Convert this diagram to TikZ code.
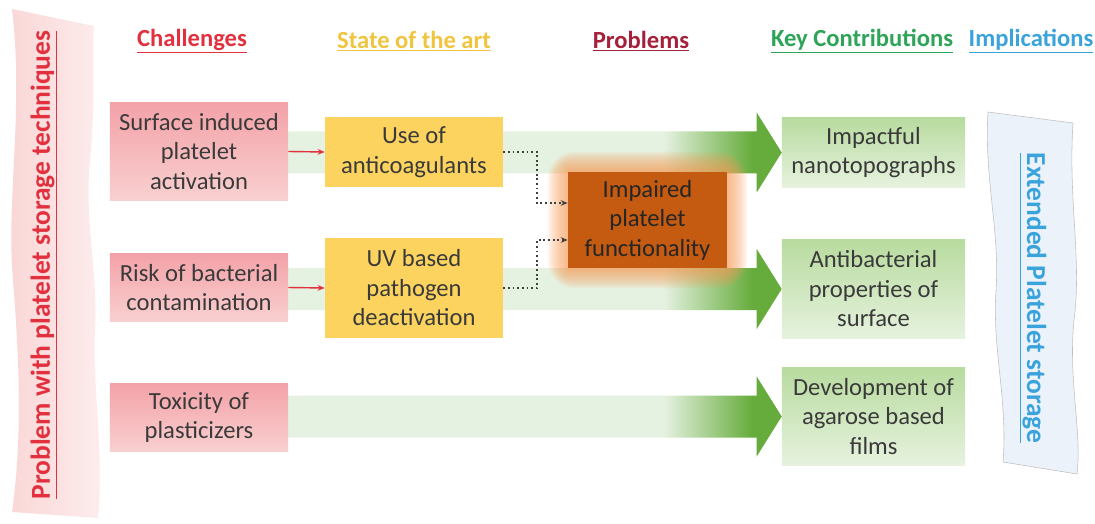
\documentclass[tikz,border=0pt]{standalone}
\usepackage{fontspec}
\setmainfont{Carlito}
\usetikzlibrary{positioning,arrows.meta,calc,backgrounds}

\definecolor{txtgray}{HTML}{3A3A3A}
\definecolor{chtop}{HTML}{F3A2A8}
\definecolor{chbot}{HTML}{F9D0D0}
\definecolor{stfill}{HTML}{FBD35E}
\definecolor{prfill}{HTML}{C55A11}
\definecolor{prhalo}{HTML}{F79A55}
\definecolor{kctop}{HTML}{B8DB9F}
\definecolor{kcbot}{HTML}{E6F2DE}
\definecolor{flowpale}{HTML}{E6F2E1}
\definecolor{flowgreen}{HTML}{66AC3C}
\definecolor{chred}{HTML}{E2303E}
\definecolor{stgold}{HTML}{F0C43E}
\definecolor{prmaroon}{HTML}{A52039}
\definecolor{kcgreen}{HTML}{2EA458}
\definecolor{imblue}{HTML}{3BA3DC}
\definecolor{bandpink}{HTML}{FAD6D6}
\definecolor{bandpale}{HTML}{FDEDED}
\definecolor{bandblue}{HTML}{ECF2F9}

% pale body, green only towards the head
\pgfdeclarehorizontalshading{flowfade}{100bp}{color(0bp)=(flowpale); color(25bp)=(flowpale); color(63bp)=(flowpale); color(72bp)=(flowgreen); color(100bp)=(flowgreen)}

\begin{document}
\begin{tikzpicture}[
  x=0.025cm, y=-0.025cm,
  font=\fontsize{17.5}{21}\selectfont,
  >=Stealth,
  hdr/.style={font=\fontsize{17.5}{20}\selectfont\bfseries},
  bandtitle/.style={font=\fontsize{19.5}{22}\selectfont\bfseries},
  chbox/.style={rectangle, top color=chtop, bottom color=chbot, text=txtgray, align=center, minimum width=4.45cm, inner sep=2pt},
  stbox/.style={rectangle, fill=stfill, text=txtgray, align=center, minimum width=4.45cm, inner sep=2pt},
  prbox/.style={rectangle, fill=prfill, text=black!85, align=center, minimum width=3.975cm, minimum height=2.4cm, inner sep=2pt},
  kcbox/.style={rectangle, top color=kctop, bottom color=kcbot, text=txtgray, align=center, minimum width=4.575cm, inner sep=2pt},
  bigflow/.style={shading=flowfade},
  prglow/.style={fill=prhalo, fill opacity=0.1},
  redlink/.style={-{Stealth[length=5pt,width=4pt]}, draw=chred, line width=1pt},
  dotlink/.style={-{Stealth[length=5pt,width=4pt]}, draw=black!75, line width=1.3pt, dotted}
]
  \useasboundingbox (0,0) rectangle (1095,524);

  % column headers
  \node[hdr, text=chred] (hch) at (192,41) {\underline{Challenges}};
  \node[hdr, text=stgold] (hst) at (414,41) {\underline{State of the art}};
  \node[hdr, text=prmaroon] (hpr) at (641,41) {\underline{Problems}};
  \node[hdr, text=kcgreen] (hkc) at (862,41) {\underline{Key Contributions}};
  \node[hdr, text=imblue] (him) at (1031,41) {\underline{Implications}};

  % challenges
  \node[chbox, minimum height=2.425cm] (ch1) at (199,151.5) {Surface induced\\platelet\\activation};
  \node[chbox, minimum height=1.7cm] (ch2) at (199,287.5) {Risk of bacterial\\contamination};
  \node[chbox, minimum height=1.7cm] (ch3) at (199,417.5) {Toxicity of\\plasticizers};

  % state of the art
  \node[stbox, minimum height=1.725cm] (st1) at (414,152) {Use of\\anticoagulants};
  \node[stbox, minimum height=2.475cm] (st2) at (414,288) {UV based\\pathogen\\deactivation};

  % problem
  \node[prbox] (pr) at (647.5,220) {Impaired\\platelet\\functionality};

  % key contributions
  \node[kcbox, minimum height=1.725cm] (kc1) at (873.5,152.5) {Impactful\\nanotopographs};
  \node[kcbox, minimum height=2.45cm] (kc2) at (873.5,289) {Antibacterial\\properties of\\surface};
  \node[kcbox, minimum height=2.425cm] (kc3) at (873.5,416.5) {Development of\\agarose based\\films};

  \begin{scope}[on background layer]
    % side bands
    \path[left color=bandpink, right color=bandpale]
      (12,9) .. controls (24,110) and (6,200) .. (13,280)
      .. controls (20,370) and (22,440) .. (12,512)
      -- (98,518) .. controls (104,450) and (92,380) .. (95,330)
      .. controls (98,270) and (84,220) .. (90,160)
      .. controls (96,100) and (92,50) .. (94,26) -- cycle;
    \path[fill=bandblue, draw=black!25, line width=0.4pt]
      (988,112) -- (1073,123)
      .. controls (1068,200) and (1082,260) .. (1074,320)
      .. controls (1068,380) and (1082,430) .. (1077,474)
      -- (1003,462)
      .. controls (1008,400) and (992,350) .. (996,290)
      .. controls (1000,230) and (984,180) .. (988,112) -- cycle;

    % wide flow arrows
    \foreach \a/\b in {ch1/kc1, ch2/kc2, ch3/kc3} {
      \coordinate (s) at (\a.east |- \b.west);
      \path[bigflow] ($(s)+(0,-21)$) -- ($(\b.west)+(-25,-21)$) -- ($(\b.west)+(-25,-40)$)
        -- (\b.west) -- ($(\b.west)+(-25,40)$) -- ($(\b.west)+(-25,21)$) -- ($(s)+(0,21)$) -- cycle;
    }

    % glow round the problem box
    \foreach \r in {20,18,...,2}
      \fill[prglow, rounded corners=\r] ($(pr.north west)+(-\r,-\r)$) rectangle ($(pr.south east)+(\r,\r)$);
  \end{scope}

  % band titles
  \node[bandtitle, text=chred, rotate=90] (lband) at (44,265) {\underline{Problem with platelet storage techniques}};
  \node[bandtitle, text=imblue, rotate=-90] (rband) at (1033,298) {\underline{Extended Platelet storage}};

  % links
  \draw[redlink] (ch1.east) -- (st1.west);
  \draw[redlink] (ch2.east) -- (st2.west);
  \draw[dotlink] (st1.east) -- ++(34,0) |- ($(pr.west)+(0,-17)$);
  \draw[dotlink] (st2.east) -- ++(34,0) |- ($(pr.west)+(0,20)$);
\end{tikzpicture}
\end{document}
